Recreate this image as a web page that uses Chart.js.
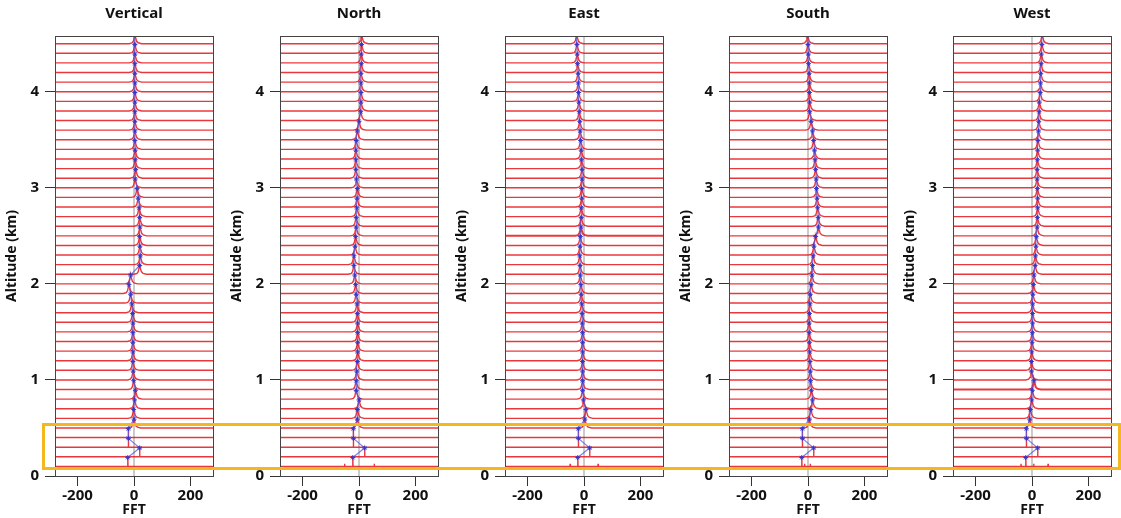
<!DOCTYPE html>
<html>
<head>
<meta charset="utf-8">
<script src="https://cdn.jsdelivr.net/npm/chart.js@4.4.1/dist/chart.umd.min.js"></script>
<style>
  html, body { margin: 0; padding: 0; background: #fff; }
  #wrap { position: relative; width: 1121px; height: 518px; overflow: hidden; }
  .panel { position: absolute; top: 0; width: 224px; height: 518px; }
  #highlight { position: absolute; border: 3px solid #f5b71f; box-sizing: border-box; pointer-events: none; }
</style>
</head>
<body>
<div id="wrap">
  <div class="panel" style="left:0px"><canvas id="c0" width="224" height="518"></canvas></div>
  <div class="panel" style="left:225px"><canvas id="c1" width="224" height="518"></canvas></div>
  <div class="panel" style="left:450px"><canvas id="c2" width="224" height="518"></canvas></div>
  <div class="panel" style="left:674px"><canvas id="c3" width="224" height="518"></canvas></div>
  <div class="panel" style="left:898px"><canvas id="c4" width="224" height="518"></canvas></div>
  <div id="highlight"></div>
</div>
<script>
// range gates (km), bottom to top
const altitudes = [0.1, 0.2, 0.3, 0.4, 0.5, 0.6, 0.7, 0.8, 0.9, 1.0,
                   1.1, 1.2, 1.3, 1.4, 1.5, 1.6, 1.7, 1.8, 1.9, 2.0,
                   2.1, 2.2, 2.3, 2.4, 2.5, 2.6, 2.7, 2.8, 2.9, 3.0,
                   3.1, 3.2, 3.3, 3.4, 3.5, 3.6, 3.7, 3.8, 3.9, 4.0,
                   4.1, 4.2, 4.3, 4.4, 4.5];

const panelNames = ['Vertical', 'North', 'East', 'South', 'West'];

// spectral peak position (FFT units) at each gate
const verticalPeaks = [-22, 20, -20, -20, 0, -1, 2, 5, -1, -3,
                       -4, -4, -4, -4, -4, -5, -8, -12, -18, -12,
                       20, 22, 21, 20, 21, 20, 18, 15, 11, 4,
                       6, 4, 4, 3, 3, 3, 3, 3, 3, 3,
                       3, 3, 3, 3, 3];
const northPeaks = [-22, 20, -20, -20, -6, -6, 0, -10, -10, -8,
                    -6, -5, -5, -5, -5, -6, -7, -10, -12, -15,
                    -18, -18, -14, -12, -10, -10, -8, -7, -6, -9,
                    -11, -11, -11, -10, -6, 0, 6, 7, 7, 7,
                    7, 8, 8, 9, 9];
const eastPeaks = [-22, 20, -20, -20, 3, 7, -2, -5, -5, -5,
                   -5, -5, -5, -5, -6, -7, -8, -10, -11, -13,
                   -14, -15, -14, -13, -11, -10, -10, -8, -8, -7,
                   -7, -9, -10, -12, -14, -15, -17, -18, -19, -20,
                   -21, -23, -24, -25, -26];
const southPeaks = [-22, 20, -20, -20, 5, 10, 16, 12, 9, 8,
                    7, 6, 5, 4, 4, 5, 7, 8, 11, 14,
                    16, 18, 21, 27, 37, 36, 34, 32, 30, 29,
                    27, 25, 23, 20, 16, 11, 6, 6, 5, 5,
                    4, 2, 1, 0, -2];
const westPeaks = [-22, 20, -20, -20, -8, -6, -1, 1, 7, -2,
                   -2, -1, 0, 1, 2, 2, 2, 3, 5, 7,
                   11, 12, 14, 15, 18, 19, 20, 20, 19, 18,
                   18, 19, 20, 21, 23, 24, 25, 26, 29, 30,
                   31, 32, 33, 35, 36];
const panelPeaks = [verticalPeaks, northPeaks, eastPeaks, southPeaks, westPeaks];

// small extra spikes on the lowest gate
const groundSpikes = [[], [-51, 54], [-49, 50], [-12, 8], [-39, 6, 57]];
// gates with a noisy (thicker looking) baseline
const noisyGates = [[], [], [2.5], [], [0.9]];

const xTicks = [-200, 0, 200];
const yTicks = [0, 1, 2, 3, 4];
const xMin = -280, xMax = 280;
const yMin = 0, yMax = 4.58;

// normalised spectrum shapes (FFT offset, fraction of peak height)
const peakDx = [-20, -10, -5, -2, 0, 2.5, 6, 12, 24];
const peakDy = [0, 0.08, 0.3, 0.75, 1, 0.7, 0.3, 0.1, 0];
const spikeDx = [-0.8, 0, 0.8];
const spikeDy = [0, 1, 0];
const peakHeight = 0.092;
const spikeGates = 4;

const highlightTop = 0.54, highlightBottom = 0.075;

Chart.defaults.font.family = "'Noto Sans', 'Open Sans', 'DejaVu Sans', sans-serif";
Chart.defaults.color = '#111';

const boxPlugin = {
    id: 'box',
    afterDatasetsDraw(chart) {
        const a = chart.chartArea;
        const ctx = chart.ctx;
        ctx.save();
        ctx.strokeStyle = '#444';
        ctx.lineWidth = 1;
        ctx.strokeRect(a.left + 0.5, a.top + 0.5, a.right - a.left, a.bottom - a.top);
        ctx.restore();
    }
};

const panelTitle = {
    id: 'panelTitle',
    afterDraw(chart, args, opts) {
        const a = chart.chartArea;
        const ctx = chart.ctx;
        ctx.save();
        ctx.font = "bold 15px 'Noto Sans', 'Open Sans', sans-serif";
        ctx.fillStyle = '#111';
        ctx.textAlign = 'center';
        ctx.textBaseline = 'middle';
        ctx.fillText(opts.text, (a.left + a.right) / 2, 14);
        ctx.restore();
    }
};

function spectrum(alt, peak, gateIdx, extra) {
    const useDx = gateIdx < spikeGates ? spikeDx : peakDx;
    const useDy = gateIdx < spikeGates ? spikeDy : peakDy;
    const bumps = [];
    useDx.forEach((d, i) => bumps.push({ x: peak + d, y: alt + useDy[i] * peakHeight }));
    (extra || []).forEach(v => {
        bumps.push({ x: v - 0.8, y: alt });
        bumps.push({ x: v, y: alt + 0.3 * peakHeight });
        bumps.push({ x: v + 0.8, y: alt });
    });
    bumps.sort((p, q) => p.x - q.x);
    return [{ x: xMin, y: alt }].concat(bumps, [{ x: xMax, y: alt }]);
}

const charts = [];

panelNames.forEach((name, p) => {
    const peaks = panelPeaks[p];
    const datasets = [];

    // connecting line through the peaks
    datasets.push({
        data: peaks.map((v, i) => ({ x: v, y: altitudes[i] + peakHeight })),
        showLine: true,
        borderColor: 'rgba(85, 85, 220, 0.75)',
        borderWidth: 1.2,
        pointStyle: 'star',
        pointRadius: 2.5,
        pointBorderColor: '#3535c8',
        pointBorderWidth: 1,
        pointBackgroundColor: '#3535c8',
        order: 0
    });

    altitudes.forEach((alt, i) => {
        const noisy = noisyGates[p].includes(alt);
        datasets.push({
            data: spectrum(alt, peaks[i], i, i === 0 ? groundSpikes[p] : null),
            showLine: true,
            borderColor: 'rgba(230, 28, 34, 0.88)',
            borderWidth: noisy ? 2 : 1.4,
            pointRadius: 0,
            tension: 0,
            order: 1
        });
    });

    // zero reference line
    datasets.push({
        data: [{ x: 0, y: yMin }, { x: 0, y: yMax }],
        showLine: true,
        borderColor: 'rgba(190, 190, 190, 0.8)',
        borderWidth: 2,
        pointRadius: 0,
        order: 2
    });

    const ctx = document.getElementById('c' + p).getContext('2d');
    charts.push(new Chart(ctx, {
        type: 'scatter',
        data: { datasets: datasets },
        plugins: [boxPlugin, panelTitle],
        options: {
            responsive: false,
            animation: false,
            layout: { padding: { top: 36, right: 11, left: 0, bottom: 0 } },
            scales: {
                x: {
                    type: 'linear',
                    min: xMin,
                    max: xMax,
                    afterBuildTicks: (s) => { s.ticks = xTicks.map(v => ({ value: v })); },
                    afterFit: (s) => { s.height = 42; },
                    border: { display: false },
                    grid: { drawOnChartArea: false, drawTicks: true, tickLength: 10, color: '#333' },
                    ticks: { font: { size: 15, weight: 'bold' }, padding: 1, color: '#111' },
                    title: { display: true, text: 'FFT', font: { size: 14, weight: 'bold' }, padding: 0, color: '#111' }
                },
                y: {
                    type: 'linear',
                    min: yMin,
                    max: yMax,
                    afterBuildTicks: (s) => { s.ticks = yTicks.map(v => ({ value: v })); },
                    afterFit: (s) => { s.width = 55; },
                    border: { display: false },
                    grid: { drawOnChartArea: false, drawTicks: true, tickLength: 10, color: '#333' },
                    ticks: { font: { size: 15, weight: 'bold' }, padding: 6, color: '#111' },
                    title: { display: true, text: 'Altitude (km)', font: { size: 14, weight: 'bold' }, padding: { top: 4, bottom: 0 }, color: '#111' }
                }
            },
            plugins: {
                legend: { display: false },
                tooltip: { enabled: false },
                panelTitle: { text: name }
            }
        }
    }));
});

// highlight box across all panels for the lowest gates
const first = charts[0];
const hl = document.getElementById('highlight');
const topPx = first.scales.y.getPixelForValue(highlightTop);
const botPx = first.scales.y.getPixelForValue(highlightBottom);
hl.style.left = (first.chartArea.left - 13) + 'px';
hl.style.right = '0px';
hl.style.top = (topPx - 1.5) + 'px';
hl.style.height = (botPx - topPx + 3) + 'px';
</script>
</body>
</html>
